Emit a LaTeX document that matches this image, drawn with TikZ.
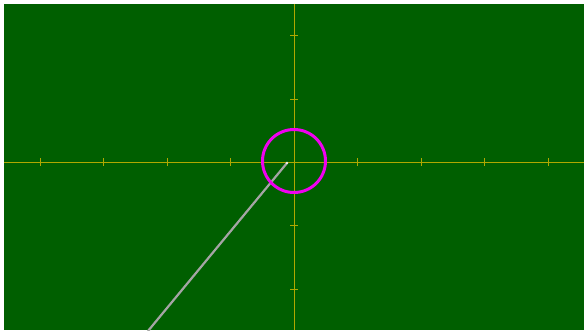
\documentclass[tikz,border=0pt]{standalone}
\definecolor{bggreen}{RGB}{0,95,0}
\definecolor{axisol}{RGB}{175,168,0}
\definecolor{ringmag}{RGB}{240,0,240}
\definecolor{traceg}{RGB}{165,165,165}
\begin{document}
\begin{tikzpicture}[x=1pt,y=-1pt,
  axisline/.style={draw=axisol,line width=1pt},
  tickline/.style={draw=axisol,line width=1pt},
  ring/.style={draw=ringmag,line width=3pt},
  trace/.style={draw=traceg,line width=2.2pt}]
\useasboundingbox (0,0) rectangle (584,330);
\fill[white] (0,0) rectangle (584,330);
\fill[bggreen] (4,4) rectangle (584,330);
% axes
\coordinate (o) at (294,162);
\draw[axisline] (4,162) -- (584,162);
\draw[axisline] (294,4) -- (294,330);
% ticks on x axis
\foreach \x in {40,103.5,167,230.5,357.5,421,484.5,548}
  \draw[tickline] (\x,158) -- (\x,166);
% ticks on y axis
\foreach \y in {35.5,99,225.5,289.5}
  \draw[tickline] (290,\y) -- (298,\y);
% trace
\coordinate (tip) at (287,163);
\coordinate (tail) at (148,331);
\draw[trace] (tail) -- (tip);
\fill[white!85!traceg] (tip) circle (1.3);
% ring
\draw[ring] (294,161) circle (31.5);
\end{tikzpicture}
\end{document}
